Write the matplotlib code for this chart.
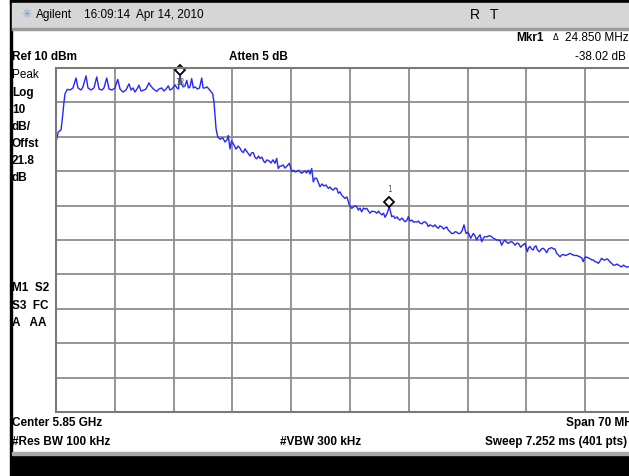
import numpy as np
import matplotlib.pyplot as plt
from matplotlib.patches import Rectangle
from matplotlib.transforms import offset_copy

# analyzer settings
center_ghz = 5.85
span_mhz = 70
ref_dbm = 10
db_per_div = 10

# trace: offset from start of sweep (MHz) and level (dBm)
freq_offset_mhz = [
    0.00, 0.27, 0.60, 0.80, 0.95, 1.07, 1.35, 1.67, 2.02, 2.38, 2.62, 2.98, 3.21, 3.57, 3.81,
    4.17, 4.52, 4.85, 5.12, 5.48, 5.71, 6.04, 6.31, 6.67, 7.02, 7.35, 7.62, 7.98, 8.33, 8.69,
    8.93, 9.17, 9.40, 9.64, 9.88, 10.12, 10.48, 10.71, 11.07, 11.19, 11.55, 11.99, 12.26, 12.58,
    12.86, 13.10, 13.37, 13.57, 13.81, 14.17, 14.40, 14.58, 14.76, 14.94, 15.15, 15.36, 15.56,
    15.77, 15.95, 16.15, 16.35, 16.55, 16.85, 17.08, 17.35, 17.50, 17.74, 17.98, 18.33, 18.65,
    18.81, 18.93, 19.05, 19.25, 19.52, 19.85, 20.12, 20.36, 20.51, 20.71, 20.89, 21.11, 21.43,
    21.67, 21.90, 22.08, 22.30, 22.50, 22.70, 22.92, 23.10, 23.27, 23.49, 23.69, 23.89, 24.11,
    24.29, 24.52, 24.70, 24.88, 25.12, 25.36, 25.60, 25.83, 26.07, 26.27, 26.46, 26.67, 26.85,
    27.06, 27.26, 27.50, 27.77, 28.06, 28.27, 28.45, 28.65, 28.87, 29.05, 29.25, 29.46, 29.64,
    29.82, 30.04, 30.24, 30.44, 30.63, 30.83, 31.04, 31.25, 31.43, 31.67, 31.90, 32.14, 32.42,
    32.62, 32.80, 33.01, 33.21, 33.42, 33.61, 33.81, 34.01, 34.23, 34.40, 34.64, 34.92, 35.20,
    35.54, 35.80, 35.99, 36.19, 36.39, 36.61, 36.79, 36.99, 37.20, 37.38, 37.62, 37.98, 38.21,
    38.39, 38.57, 38.81, 38.99, 39.17, 39.40, 39.68, 39.96, 40.18, 40.36, 40.60, 40.77, 40.95,
    41.19, 41.37, 41.55, 41.79, 41.94, 42.14, 42.38, 42.56, 42.74, 42.98, 43.15, 43.33, 43.57,
    43.75, 43.93, 44.17, 44.32, 44.52, 44.76, 44.92, 45.12, 45.30, 45.51, 45.71, 45.95, 46.13,
    46.31, 46.51, 46.70, 46.90, 47.11, 47.30, 47.50, 47.70, 47.89, 48.10, 48.33, 48.57, 48.81,
    49.05, 49.37, 49.68, 49.88, 50.08, 50.27, 50.48, 50.68, 50.89, 51.07, 51.31, 51.49, 51.67,
    51.90, 52.06, 52.26, 52.46, 52.68, 52.86, 53.06, 53.25, 53.45, 53.63, 53.85, 54.05, 54.25,
    54.46, 54.64, 54.88, 55.06, 55.32, 55.54, 55.83, 56.11, 56.25, 56.43, 56.61, 56.82, 56.96,
    57.14, 57.32, 57.54, 57.80, 58.01, 58.21, 58.42, 58.63, 58.81, 59.01, 59.23, 59.40, 59.61,
    59.82, 60.00, 60.18, 60.39, 60.60, 60.80, 61.01, 61.19, 61.37, 61.58, 61.79, 61.99, 62.20,
    62.38, 62.58, 62.77, 62.92, 63.10, 63.33, 63.57, 63.77, 63.99, 64.17, 64.37, 64.56, 64.76,
    64.96, 65.18, 65.36, 65.60, 65.77, 65.95, 66.15, 66.35, 66.55, 66.79, 66.96, 67.14, 67.35,
    67.56, 67.74, 67.92, 68.13, 68.33, 68.57, 68.93, 69.29, 69.64, 70.00,
]
level_dbm = [
    -11.5, -8.6, -8.0, -3.7, 0.1, 2.5, 3.8, 3.6, 4.2, 7.1, 4.2, 3.6, 4.5, 7.7, 4.2,
    3.6, 4.2, 7.4, 3.9, 3.6, 4.2, 7.1, 3.9, 3.6, 4.2, 6.7, 3.9, 3.0, 3.6, 5.4,
    3.6, 4.2, 3.0, 3.9, 5.0, 3.3, 3.6, 3.9, 5.7, 5.1, 4.0, 3.2, 3.9, 4.2,
    3.3, 3.9, 4.8, 3.6, 3.9, 5.1, 4.2, 3.9, 7.9, 5.3, 4.5, 4.8, 6.4,
    4.2, 4.5, 6.9, 4.2, 4.5, 3.9, 4.2, 7.1, 4.2, 4.2, 4.5, 3.5, 2.5,
    0.1, -3.7, -7.6, -10.0, -10.7, -10.3, -11.5, -10.9, -9.6, -13.5, -11.2, -12.0, -13.6,
    -12.7, -13.3, -14.1, -14.6, -13.5, -14.2, -15.0, -15.6, -14.7, -14.6, -16.0, -16.4, -15.6,
    -16.3, -15.9, -17.0, -17.5, -16.7, -17.0, -17.6, -16.7, -17.7, -16.3, -19.2, -18.5, -18.5,
    -18.2, -19.1, -18.5, -17.7, -20.1, -19.7, -20.2, -20.1, -19.7, -20.2, -20.6, -20.2, -19.9,
    -20.5, -19.7, -20.8, -19.2, -23.1, -22.0, -22.1, -23.4, -24.5, -23.7, -24.3, -24.0, -25.0,
    -24.6, -25.2, -25.5, -24.9, -25.0, -26.4, -26.0, -26.9, -27.5, -27.9, -27.5, -29.8, -30.8,
    -30.1, -30.3, -31.3, -30.7, -31.8, -30.7, -31.0, -30.8, -31.6, -32.2, -31.6, -31.8, -32.2,
    -31.6, -32.2, -32.7, -32.2, -33.4, -32.4, -30.3, -33.2, -33.0, -33.7, -33.3, -33.9, -34.2,
    -33.6, -34.2, -34.7, -34.2, -33.2, -34.5, -34.2, -34.8, -34.7, -34.8, -34.5, -35.1, -35.3,
    -34.8, -34.7, -35.3, -36.1, -35.6, -35.9, -36.1, -35.6, -36.2, -36.6, -35.9, -36.2, -36.8,
    -36.5, -36.2, -37.1, -37.6, -38.1, -38.1, -37.6, -37.7, -38.1, -38.1, -37.4, -35.6, -38.1,
    -37.7, -39.5, -38.1, -38.8, -40.0, -39.1, -38.5, -40.5, -39.4, -39.0, -39.1, -38.8, -38.8,
    -39.1, -39.5, -39.7, -40.0, -40.0, -40.2, -41.5, -40.6, -40.0, -40.6, -41.0, -40.6, -40.5,
    -40.9, -41.5, -40.9, -41.0, -42.1, -41.5, -41.0, -43.4, -42.3, -41.9, -42.6, -42.9, -42.0,
    -41.7, -42.9, -43.4, -42.6, -42.4, -42.9, -43.7, -42.6, -42.4, -42.2, -42.6, -42.6, -43.9,
    -44.4, -44.9, -44.4, -44.2, -44.5, -44.4, -44.1, -43.9, -44.1, -44.4, -44.5, -44.5, -44.7,
    -44.9, -45.2, -46.3, -45.2, -44.9, -45.2, -45.4, -45.8, -45.8, -46.3, -46.4, -46.8, -46.1,
    -45.3, -45.8, -45.8, -45.5, -45.8, -46.4, -46.8, -47.3, -47.3, -47.0, -47.3, -47.6, -47.8,
    -47.3, -47.6, -47.9, -47.8, -47.6, -47.9, -47.9, -48.1, -47.9, -48.1,
]

# markers: reference marker 1R and delta marker 1
mkr_names = ["1R", "1"]
mkr_offset_mhz = [14.76, 39.68]
mkr_level_dbm = [7.9, -30.3]

start_mhz = center_ghz * 1000 - span_mhz / 2
stop_mhz = center_ghz * 1000 + span_mhz / 2
freq_mhz = start_mhz + np.array(freq_offset_mhz)

W, H = 629, 476
fig = plt.figure(figsize=(W / 100, H / 100), dpi=100)
fig.patch.set_facecolor("white")

def fx(x):
    return x / W

def fy(y):
    return 1 - y / H

# frame of the instrument screen
fig.add_artist(Rectangle((fx(10), 0), fx(2), 1, color="black", transform=fig.transFigure))
fig.add_artist(Rectangle((fx(10), fy(3)), 1, 3 / H, color="black", transform=fig.transFigure))
fig.add_artist(Rectangle((fx(12), fy(28)), 1, 25 / H, color="#d6d6d6", transform=fig.transFigure))
fig.add_artist(Rectangle((fx(12), fy(30)), 1, 2 / H, color="#9a9a9a", transform=fig.transFigure))
fig.add_artist(Rectangle((fx(12), 0), 1, 21 / H, color="black", transform=fig.transFigure))
fig.add_artist(Rectangle((fx(12), fy(455)), 1, 3 / H, color="#a8a8a8", transform=fig.transFigure))

lab = dict(family="Liberation Sans", fontsize=8.5, fontweight="bold", va="center")
reg = dict(family="Liberation Sans", fontsize=8.5, va="center")

# title bar
fig.text(fx(21), fy(15), "\u2733", family="DejaVu Sans", fontsize=9, color="#7a9ae0", va="center")
fig.text(fx(36), fy(15), "Agilent", **reg)
fig.text(fx(84), fy(15), "16:09:14  Apr 14, 2010", **reg)
fig.text(fx(470), fy(15), "R", family="Liberation Sans", fontsize=10, va="center")
fig.text(fx(490), fy(15), "T", family="Liberation Sans", fontsize=10, va="center")

# marker readout
fig.text(fx(629), fy(38), "24.850 MHz", ha="right", **reg)
fig.text(fx(559), fy(38), "\u0394", ha="right", family="DejaVu Sans", fontsize=6, va="center")
fig.text(fx(544), fy(38), "Mkr1", ha="right", **lab)
fig.text(fx(626), fy(57), "-38.02 dB", ha="right", **reg)

fig.text(fx(12), fy(57), "Ref 10 dBm", **lab)
fig.text(fx(229), fy(57), "Atten 5 dB", **lab)

# left side annotations
fig.text(fx(12), fy(75), "Peak", **reg)
side = ["Log", "10", "dB/", "Offst", "21.8", "dB"]
for i, s in enumerate(side):
    fig.text(fx(12), fy(93 + i * 17), s, **lab)
fig.text(fx(12), fy(288), "M1  S2", **lab)
fig.text(fx(12), fy(306), "S3  FC", **lab)
fig.text(fx(12), fy(323), "A   AA", **lab)

# bottom annotations
fig.text(fx(12), fy(423), "Center 5.85 GHz", **lab)
fig.text(fx(638), fy(423), "Span 70 MHz", ha="right", **lab)
fig.text(fx(12), fy(442), "#Res BW 100 kHz", **lab)
fig.text(fx(280), fy(442), "#VBW 300 kHz", **lab)
fig.text(fx(627), fy(442), "Sweep 7.252 ms (401 pts)", ha="right", **lab)

# graticule
ax = fig.add_axes([fx(56), fy(412), 588 / W, 344 / H])
ax.set_xlim(start_mhz, stop_mhz)
ax.set_ylim(ref_dbm - 10 * db_per_div, ref_dbm)
ax.set_xticks(np.linspace(start_mhz, stop_mhz, 11))
ax.set_yticks(np.linspace(ref_dbm - 10 * db_per_div, ref_dbm, 11))
ax.tick_params(length=0, labelbottom=False, labelleft=False)
ax.grid(color="#8c8c8c", lw=1.3)
ax.set_axisbelow(True)
for sp in ax.spines.values():
    sp.set_color("#7a7a7a")
    sp.set_linewidth(1.5)

ax.plot(freq_mhz, level_dbm, color="#2626ff", lw=1.0)

# markers drawn a few pixels above the trace
mk_x = start_mhz + np.array(mkr_offset_mhz)
up = offset_copy(ax.transData, fig=fig, y=5, units="dots")
ax.plot(mk_x, mkr_level_dbm, "D", ms=5, mfc="white", mec="black", mew=1.3,
        transform=up, clip_on=False)
lbl_dy = [-7, 17]
for name, x, y, dy in zip(mkr_names, mk_x, mkr_level_dbm, lbl_dy):
    tr = offset_copy(ax.transData, fig=fig, y=dy, units="dots")
    ax.text(x, y, name, transform=tr, ha="center", va="center", fontsize=5.5,
            family="DejaVu Sans Mono", color="#555555")

fig.savefig("out.png", dpi=100)
